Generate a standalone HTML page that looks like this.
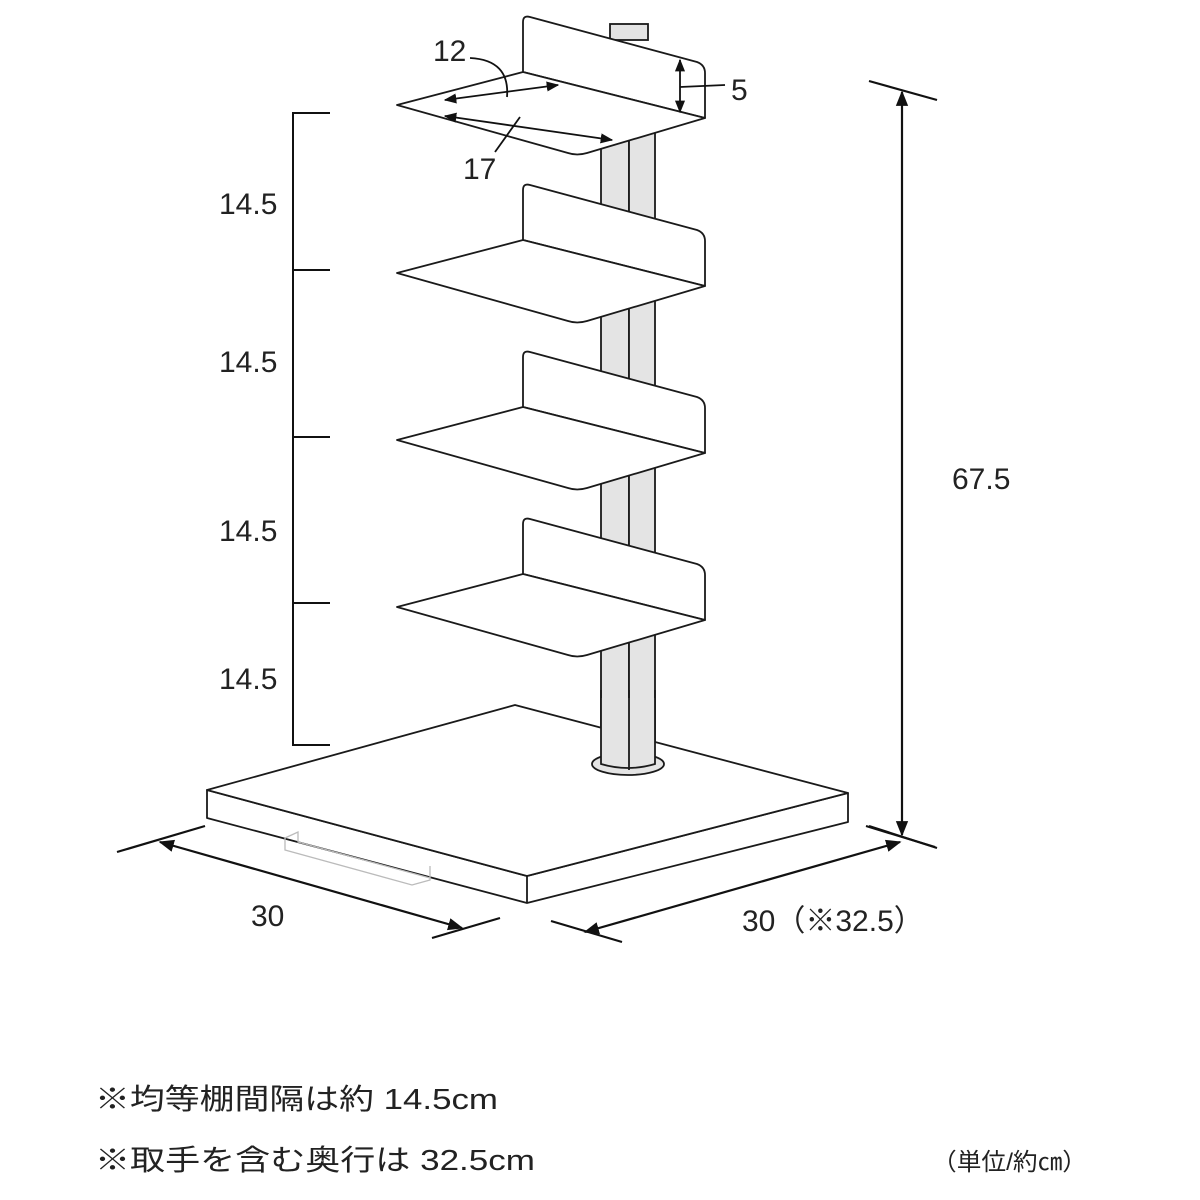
<!DOCTYPE html>
<html><head><meta charset="utf-8"><style>
html,body{margin:0;padding:0;background:#fff;}
svg{display:block}
text{font-family:"Liberation Sans","Noto Sans CJK JP",sans-serif;fill:#222}
</style></head><body>
<svg width="1200" height="1200" viewBox="0 0 1200 1200" xmlns="http://www.w3.org/2000/svg">
<defs>
<marker id="a" viewBox="0 0 10 10" refX="9" refY="5" markerWidth="7" markerHeight="7" orient="auto-start-reverse"><path d="M0,1 L10,5 L0,9 Z" fill="#111"/></marker>
<g id="shelf" stroke="#1a1a1a" stroke-width="1.8" fill="#fff" stroke-linejoin="round">
<path d="M523,72 L523,22 Q523,15 530,17 L697,62 Q705,65 705,73 L705,118 L523,72 Z"/>
<path d="M523,72 L397,105 L568,153 Q577,156 587,153 L705,118 Z"/>
</g>
</defs>
<!-- pole -->
<g stroke="#1a1a1a" stroke-width="1.8" fill="#e4e4e4">
<rect x="610" y="24" width="38" height="16"/>
<rect x="601" y="130" width="28" height="635"/>
<rect x="629" y="130" width="26" height="635"/>
</g>
<use href="#shelf"/>
<use href="#shelf" transform="translate(0,168)"/>
<use href="#shelf" transform="translate(0,335)"/>
<use href="#shelf" transform="translate(0,502)"/>
<!-- base -->
<g stroke="#1a1a1a" stroke-width="1.8" fill="#fff" stroke-linejoin="round">
<path d="M207,790 L207,818 L527,903 L848,822 L848,793 L527,876 Z"/>
<path d="M515,705 L207,790 L527,876 L848,793 Z"/>
<line x1="527" y1="876" x2="527" y2="903"/>
</g>
<g stroke="#1a1a1a" stroke-width="1.8" fill="#e4e4e4">
<ellipse cx="628" cy="764" rx="36" ry="11"/>
</g>
<path d="M601,698 L601,764 Q628,772 655,764 L655,698" fill="#e4e4e4" stroke="none"/>
<g stroke="#1a1a1a" stroke-width="1.8" fill="none">
<path d="M601,690 L601,764 Q628,772 655,764 L655,690"/>
<line x1="629" y1="690" x2="629" y2="770"/>
</g>
<g stroke="#bbb" stroke-width="1.3" fill="none">
<path d="M285,838 L285,850 L412,885 L430,880 L430,866"/>
<path d="M285,838 L298,832 L298,842 L430,878"/>
</g>
<!-- top dims -->
<g stroke="#111" stroke-width="1.8" fill="none">
<line x1="445" y1="100" x2="558" y2="85" marker-start="url(#a)" marker-end="url(#a)"/>
<line x1="445" y1="116" x2="612" y2="140" marker-start="url(#a)" marker-end="url(#a)"/>
<path d="M470,58 Q510,60 507,97"/>
<line x1="520" y1="117" x2="495" y2="152"/>
<line x1="680" y1="60" x2="680" y2="112" marker-start="url(#a)" marker-end="url(#a)"/>
<line x1="680" y1="87" x2="725" y2="85"/>
</g>
<text x="433" y="61" font-size="30">12</text>
<text x="463" y="179" font-size="30">17</text>
<text x="731" y="100" font-size="30">5</text>
<!-- left bracket -->
<g stroke="#111" stroke-width="2" fill="none">
<path d="M330,113 L293,113 L293,745 L330,745"/>
<line x1="293" y1="270" x2="330" y2="270"/>
<line x1="293" y1="437" x2="330" y2="437"/>
<line x1="293" y1="603" x2="330" y2="603"/>
</g>
<g font-size="30">
<text x="219" y="214">14.5</text>
<text x="219" y="372">14.5</text>
<text x="219" y="541">14.5</text>
<text x="219" y="689">14.5</text>
</g>
<!-- height -->
<g stroke="#111" stroke-width="2.2" fill="none">
<line x1="869" y1="81" x2="937" y2="100"/>
<line x1="869" y1="826" x2="937" y2="848"/>
<line x1="902" y1="92" x2="902" y2="835" marker-start="url(#a)" marker-end="url(#a)"/>
</g>
<text x="952" y="489" font-size="30">67.5</text>
<!-- bottom dims -->
<g stroke="#111" stroke-width="2.2" fill="none">
<line x1="117" y1="852" x2="205" y2="826"/>
<line x1="432" y1="938" x2="500" y2="918"/>
<line x1="160" y1="842" x2="462" y2="928" marker-start="url(#a)" marker-end="url(#a)"/>
<line x1="551" y1="921" x2="622" y2="942"/>
<line x1="866" y1="826" x2="935" y2="847"/>
<line x1="585" y1="932" x2="900" y2="842" marker-start="url(#a)" marker-end="url(#a)"/>
</g>
<text x="251" y="926" font-size="30">30</text>
<text x="742" y="931" font-size="30">30（※32.5）</text>
<!-- notes -->
<text x="95" y="1109" font-size="29" textLength="403" lengthAdjust="spacingAndGlyphs">※均等棚間隔は約 14.5cm</text>
<text x="95" y="1170" font-size="29" textLength="440" lengthAdjust="spacingAndGlyphs">※取手を含む奥行は 32.5cm</text>
<text x="932" y="1170" font-size="24" textLength="155" lengthAdjust="spacingAndGlyphs">（単位/約㎝）</text>
</svg>
</body></html>
